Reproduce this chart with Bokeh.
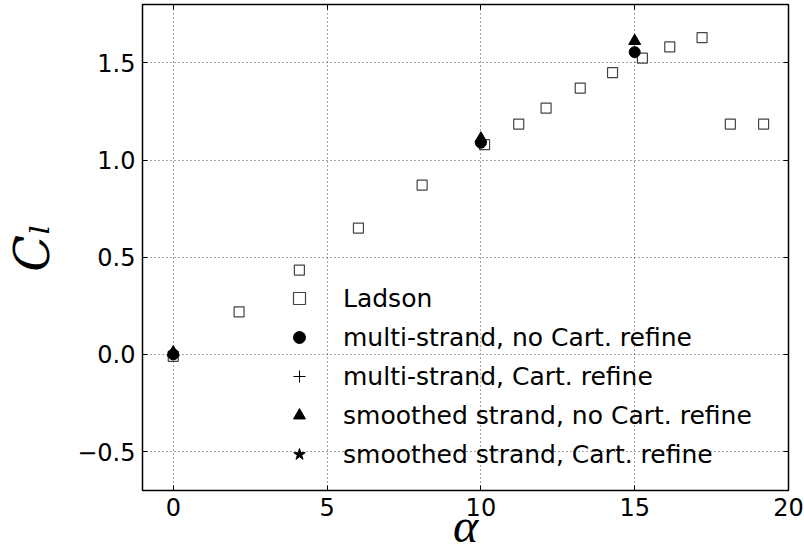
from bokeh.plotting import figure
from bokeh.models import Legend, LegendItem, LinearAxis, Range1d, FixedTicker
from bokeh.embed import file_html
from bokeh.resources import INLINE

# Ladson experimental data
ladson_alpha = [0.0, 2.14, 4.10, 6.02, 8.09, 10.12, 11.23, 12.12, 13.23, 14.28, 15.25, 16.14, 17.19, 18.11, 19.19]
ladson_cl = [-0.01, 0.219, 0.434, 0.650, 0.871, 1.079, 1.185, 1.267, 1.370, 1.450, 1.524, 1.582, 1.630, 1.185, 1.185]

# multi-strand, no Cart. refine
ms_alpha = [0.0, 10.0, 15.0]
ms_cl = [0.0, 1.089, 1.555]

# multi-strand, Cart. refine (hidden under the other markers)
msr_alpha = [0.0]
msr_cl = [0.0]

# smoothed strand, no Cart. refine
ss_alpha = [0.0, 10.0, 15.0]
ss_cl = [0.01, 1.11, 1.612]

# smoothed strand, Cart. refine (hidden under the other markers)
ssr_alpha = [0.0]
ssr_cl = [0.0]

x_ticks = [0, 5, 10, 15, 20]
y_ticks = [-0.5, 0.0, 0.5, 1.0, 1.5]

p = figure(width=804, height=554, output_backend="svg", toolbar_location=None,
           x_range=Range1d(-1, 20), y_range=Range1d(-0.7, 1.8))
p.min_border_left = 142
p.min_border_right = 16
p.min_border_top = 4
p.min_border_bottom = 64
p.background_fill_color = "white"
p.border_fill_color = "white"
p.outline_line_color = "black"
p.outline_line_width = 1.5

for ax in (p.xaxis[0], p.yaxis[0]):
    ax.major_tick_in = 5
    ax.major_tick_out = 0
    ax.minor_tick_line_color = None
    ax.axis_line_color = None
    ax.major_tick_line_color = "black"
    ax.major_label_text_font = "DejaVu Sans"
    ax.major_label_text_font_size = "24px"
    ax.major_label_text_color = "black"
    ax.major_label_standoff = 7

p.xaxis[0].ticker = FixedTicker(ticks=x_ticks)
p.yaxis[0].ticker = FixedTicker(ticks=y_ticks)
p.yaxis[0].major_label_overrides = {-0.5: "\u22120.5", 0.0: "0.0", 0.5: "0.5", 1.0: "1.0", 1.5: "1.5"}

p.xaxis[0].axis_label = "\u03b1"
p.xaxis[0].axis_label_text_font = "Liberation Serif"
p.xaxis[0].axis_label_text_font_style = "italic"
p.xaxis[0].axis_label_text_font_size = "48px"
p.xaxis[0].axis_label_standoff = -20
p.xaxis[0].axis_label_text_color = "black"

p.yaxis[0].axis_label = "C\u2097"
p.yaxis[0].axis_label_text_font = "DejaVu Serif"
p.yaxis[0].axis_label_text_font_style = "italic"
p.yaxis[0].axis_label_text_font_size = "48px"
p.yaxis[0].axis_label_standoff = 14
p.yaxis[0].axis_label_text_color = "black"

# ticks on top and right, with empty labels
top = LinearAxis(ticker=FixedTicker(ticks=x_ticks), major_tick_in=5, major_tick_out=0,
                 minor_tick_line_color=None, axis_line_color=None,
                 major_label_overrides={t: "" for t in x_ticks}, major_label_standoff=0)
right = LinearAxis(ticker=FixedTicker(ticks=y_ticks), major_tick_in=5, major_tick_out=0,
                   minor_tick_line_color=None, axis_line_color=None,
                   major_label_overrides={t: "" for t in y_ticks}, major_label_standoff=0)
p.add_layout(top, "above")
p.add_layout(right, "right")

p.xgrid.ticker = FixedTicker(ticks=x_ticks)
p.ygrid.ticker = FixedTicker(ticks=y_ticks)
for g in (p.xgrid[0], p.ygrid[0]):
    g.grid_line_color = "black"
    g.grid_line_alpha = 0.7
    g.grid_line_dash = "1 3"
    g.grid_line_width = 1

r_lad = p.scatter(ladson_alpha, ladson_cl, marker="square", size=10,
                  fill_color=None, line_color="#444444", line_width=1.2)
r_msr = p.scatter(msr_alpha, msr_cl, marker="cross", size=9,
                  line_color="black", line_width=1)
r_ssr = p.scatter(ssr_alpha, ssr_cl, marker="star", size=9,
                  fill_color="black", line_color="black")
r_ss = p.scatter(ss_alpha, ss_cl, marker="triangle", size=12,
                 fill_color="black", line_color="black")
r_ms = p.scatter(ms_alpha, ms_cl, marker="circle", size=11,
                 fill_color="black", line_color="black")

legend = Legend(items=[
    LegendItem(label="Ladson", renderers=[r_lad]),
    LegendItem(label="multi-strand, no Cart. refine", renderers=[r_ms]),
    LegendItem(label="multi-strand, Cart. refine", renderers=[r_msr]),
    LegendItem(label="smoothed strand, no Cart. refine", renderers=[r_ss]),
    LegendItem(label="smoothed strand, Cart. refine", renderers=[r_ssr]),
], location=(142, 21))
legend.background_fill_alpha = 0
legend.border_line_alpha = 0
legend.padding = 0
legend.margin = 0
legend.spacing = 9
legend.glyph_width = 30
legend.glyph_height = 30
legend.label_height = 30
legend.label_standoff = 29
legend.label_text_font = "DejaVu Sans"
legend.label_text_font_size = "25px"
legend.label_text_color = "black"
p.add_layout(legend)

open("out.html", "w").write(file_html(p, INLINE))
